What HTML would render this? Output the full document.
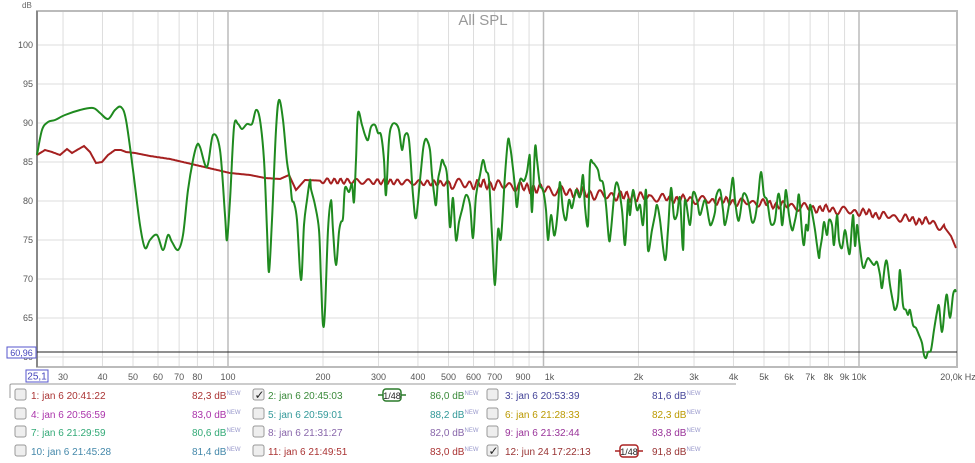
<!DOCTYPE html>
<html><head><meta charset="utf-8"><style>
body{margin:0;background:#fff;width:975px;height:463px;overflow:hidden;font-family:"Liberation Sans",sans-serif}
svg{position:absolute;left:0;top:0}
</style></head><body>
<svg id="s" width="975" height="463" xmlns="http://www.w3.org/2000/svg" font-family="Liberation Sans, sans-serif">
<rect x="0" y="0" width="975" height="463" fill="#fff"/>
<g id="grid"></g>
<rect x="37" y="11" width="920" height="356" fill="none" stroke="#bbb" stroke-width="2"/>
<line x1="37" y1="11" x2="37" y2="367" stroke="#888" stroke-width="2"/>
<line x1="37" y1="352" x2="957" y2="352" stroke="#222" stroke-width="1"/>
<text x="483" y="25" font-size="15" fill="#999" text-anchor="middle">All SPL</text>
<text x="22" y="8" font-size="8" fill="#666">dB</text>
<g id="lab" font-size="9" fill="#555"></g>
<rect x="7" y="347" width="29" height="11" fill="#fff" stroke="#55c"/>
<text x="21.5" y="356" font-size="9" fill="#44b" text-anchor="middle">60,96</text>
<rect x="26" y="370" width="22" height="12" fill="#fff" stroke="#55c"/>
<text x="37" y="379.5" font-size="10" fill="#44b" text-anchor="middle">25,1</text>
<text x="958" y="380" font-size="9" fill="#555" text-anchor="middle">20,0k Hz</text>
<path id="red" fill="none" stroke="#a52020" stroke-width="2"/>
<path id="green" fill="none" stroke="#1f8a1f" stroke-width="2"/>
<path d="M10,398 V385 Q10,384 12,384 H736" fill="none" stroke="#999"/>
<g id="leg" font-size="10"></g>
</svg>
<script>
const NS="http://www.w3.org/2000/svg";
function X(f){return 228+Math.log10(f/100)*315.5}
function Y(d){return 45+(100-d)*7.8}
const g=document.getElementById('grid'),lab=document.getElementById('lab');
function el(p,t,a,txt){const e=document.createElementNS(NS,t);for(const k in a)e.setAttribute(k,a[k]);if(txt!=null)e.textContent=txt;p.appendChild(e);return e}
for(let d=60;d<=100;d+=5){el(g,'line',{x1:37,x2:957,y1:Y(d),y2:Y(d),stroke:'#ddd'});el(lab,'text',{x:33,y:Y(d)+3,'text-anchor':'end'},String(d));}
const fs=[30,40,50,60,70,80,90,100,200,300,400,500,600,700,800,900,1000,2000,3000,4000,5000,6000,7000,8000,9000,10000];
const names={30:'30',40:'40',50:'50',60:'60',70:'70',80:'80',100:'100',200:'200',300:'300',400:'400',500:'500',600:'600',700:'700',900:'900',1000:'1k',2000:'2k',3000:'3k',4000:'4k',5000:'5k',6000:'6k',7000:'7k',8000:'8k',9000:'9k',10000:'10k'};
fs.forEach(f=>{const x=X(f),maj=[100,1000,10000].includes(f);el(g,'line',{x1:x,x2:x,y1:11,y2:367,stroke:maj?'#bbb':'#ddd','stroke-width':maj?1.5:1});if(names[f])el(lab,'text',{x:x+(f==900?-6:f==1000?6:0),y:380,'text-anchor':'middle'},names[f]);});
const G=[[37,155],[42,130],[48,122],[55,120],[65,115],[80,110],[93,108],[100,113],[108,119],[115,110],[121,107],[126,120],[133,170],[140,225],[145,248],[150,240],[157,235],[163,250],[168,235],[172,242],[178,250],[183,235],[188,190],[193,160],[197,145],[200,147],[207,167],[213,135],[220,150],[225,215],[227,240],[230,200],[234,127],[238,124],[242,129],[247,124],[252,124],[256,110],[260,120],[264,160],[267,230],[269,272],[272,220],[276,130],[279,100],[283,120],[287,162],[290,180],[292,200],[294,203],[297,220],[301,280],[304,225],[307,200],[310,180],[311,189],[315,205],[319,230],[321,280],[323,325],[325,310],[328,230],[331,200],[333,230],[336,265],[339,232],[341,222],[343,218],[345,188],[349,192],[352,184],[354,202],[356,160],[358,113],[362,125],[365,135],[368,140],[371,127],[375,125],[378,133],[381,135],[384,160],[386,195],[389,140],[392,125],[396,124],[399,130],[402,150],[405,135],[409,140],[413,195],[416,218],[420,180],[423,150],[425,140],[427,140],[430,150],[432,175],[434,193],[436,205],[438,180],[440,170],[442,160],[444,164],[447,175],[450,227],[453,198],[456,240],[459,222],[462,210],[466,195],[470,205],[473,238],[476,196],[480,175],[483,160],[486,171],[489,180],[492,235],[495,285],[498,230],[501,238],[505,175],[508,140],[510,146],[512,160],[515,187],[517,207],[520,180],[524,181],[527,172],[529,158],[530,160],[532,212],[535,148],[537,160],[540,185],[543,190],[546,210],[548,240],[551,215],[554,235],[556,228],[558,208],[560,182],[563,210],[566,220],[569,200],[572,208],[576,190],[580,197],[583,175],[585,207],[588,225],[590,165],[593,163],[595,165],[598,170],[600,180],[603,183],[606,205],[609,240],[611,230],[615,188],[618,185],[622,210],[625,245],[628,200],[630,215],[633,190],[637,210],[640,205],[643,225],[646,190],[648,250],[652,230],[655,215],[657,205],[660,220],[665,260],[668,230],[671,188],[674,217],[677,215],[680,198],[683,250],[685,200],[690,225],[693,193],[697,200],[700,215],[705,200],[709,220],[711,225],[715,212],[716,197],[720,190],[723,210],[725,225],[729,205],[731,190],[733,178],[735,200],[738,220],[740,215],[743,195],[746,195],[749,205],[752,222],[755,218],[758,198],[761,172],[764,195],[767,200],[770,220],[772,225],[775,220],[778,195],[780,200],[782,225],[784,210],[786,190],[789,215],[792,230],[794,225],[797,210],[799,195],[802,232],[804,245],[806,225],[808,230],[810,205],[813,218],[815,230],[817,245],[819,258],[820,250],[822,238],[824,222],[827,235],[829,220],[832,225],[834,245],[837,215],[839,240],[842,248],[845,230],[848,248],[850,252],[853,215],[855,246],[857,225],[859,240],[862,263],[864,268],[866,262],[868,258],[870,260],[874,265],[877,262],[880,275],[882,288],[885,265],[887,262],[890,285],[893,302],[895,310],[898,300],[900,270],[903,305],[906,310],[908,315],[910,310],[913,325],[916,328],[919,335],[922,343],[924,355],[926,358],[928,352],[931,350],[934,330],[937,312],[939,306],[942,332],[945,305],[947,295],[950,318],[953,295],[955,290],[956,292]];
function smooth(p){let d='M'+p[0][0]+','+p[0][1];for(let i=1;i<p.length;i++){const p0=p[i-2]||p[i-1],p1=p[i-1],p2=p[i],p3=p[i+1]||p2;const c1x=p1[0]+(p2[0]-p0[0])/6,c1y=p1[1]+(p2[1]-p0[1])/6,c2x=p2[0]-(p3[0]-p1[0])/6,c2y=p2[1]-(p3[1]-p1[1])/6;d+=` C${c1x.toFixed(1)},${c1y.toFixed(1)} ${c2x.toFixed(1)},${c2y.toFixed(1)} ${p2[0]},${p2[1]}`;}return d}
document.getElementById('green').setAttribute('d',smooth(G));
const RA=[[37,155],[45,150],[52,152],[60,155],[67,149],[72,153],[77,150],[84,146],[90,152],[96,163],[102,162],[108,155],[115,150],[121,150],[126,152],[135,153],[150,156],[170,159],[200,166],[230,173],[250,175],[265,178],[280,179],[289,175],[296,190],[305,180],[330,181],[400,182],[500,185],[600,195],[700,200],[760,203],[800,207],[860,212],[900,218],[930,222],[945,228],[951,236],[956,248]];
function base(x){for(let i=1;i<RA.length;i++)if(x<=RA[i][0]){const a=RA[i-1],b=RA[i];return a[1]+(b[1]-a[1])*(x-a[0])/(b[0]-a[0]);}return 248}
const R=[];for(let x=37;x<=956;x+=1){let y=base(x);if(x>320&&x<945){const amp=x<450?2.5:x<650?4:3;y+=amp*Math.sin(x*0.75+Math.sin(x*0.13)*2)+ (x>450?1.5*Math.sin(x*0.31):0);}R.push([x,+y.toFixed(1)]);}
document.getElementById('red').setAttribute('d','M'+R.map(p=>p.join(',')).join(' L'));
const leg=document.getElementById('leg');
const rows=[395,414,432,451];
const items=[
[0,0,'1: jan 6 20:41:22','82,3','#a33',0],[1,0,'2: jan 6 20:45:03','86,0','#3a8a3a',1],[2,0,'3: jan 6 20:53:39','81,6','#449',0],
[0,1,'4: jan 6 20:56:59','83,0','#a3a',0],[1,1,'5: jan 6 20:59:01','88,2','#399',0],[2,1,'6: jan 6 21:28:33','82,3','#b90',0],
[0,2,'7: jan 6 21:29:59','80,6','#3a7',0],[1,2,'8: jan 6 21:31:27','82,0','#86a',0],[2,2,'9: jan 6 21:32:44','83,8','#939',0],
[0,3,'10: jan 6 21:45:28','81,4','#48a',0],[1,3,'11: jan 6 21:49:51','83,0','#a33',0],[2,3,'12: jun 24 17:22:13','91,8','#933',1]];
const cx=[15,253,487],tx=[31,268,505],dx=[192,430,652];
items.forEach(([c,r,t,v,col,chk])=>{const y=rows[r];
el(leg,'rect',{x:cx[c],y:y-6,width:11,height:11,rx:2,fill:'#eee',stroke:'#999'});
if(chk)el(leg,'text',{x:cx[c]+1.5,y:y+4,'font-size':12,fill:'#222'},'✓');
el(leg,'text',{x:tx[c],y:y+4,fill:col},t);
const tt=el(leg,'text',{x:dx[c],y:y+4,fill:col},v+' dB');el(tt,'tspan',{'font-size':6,dy:-4,fill:'#99c'},'NEW');
if(chk){const ic=c==1?378:615,sc=c==1?'#2a7a2a':'#a22';el(leg,'line',{x1:ic,x2:ic+28,y1:y,y2:y,stroke:sc,'stroke-width':1.5});el(leg,'rect',{x:ic+5,y:y-6,width:18,height:12,rx:3,fill:'#fff',stroke:sc,'stroke-width':1.5});el(leg,'text',{x:ic+14,y:y+4,'font-size':9,'text-anchor':'middle',fill:'#222'},'1/48');}
});
</script>
</body></html>
